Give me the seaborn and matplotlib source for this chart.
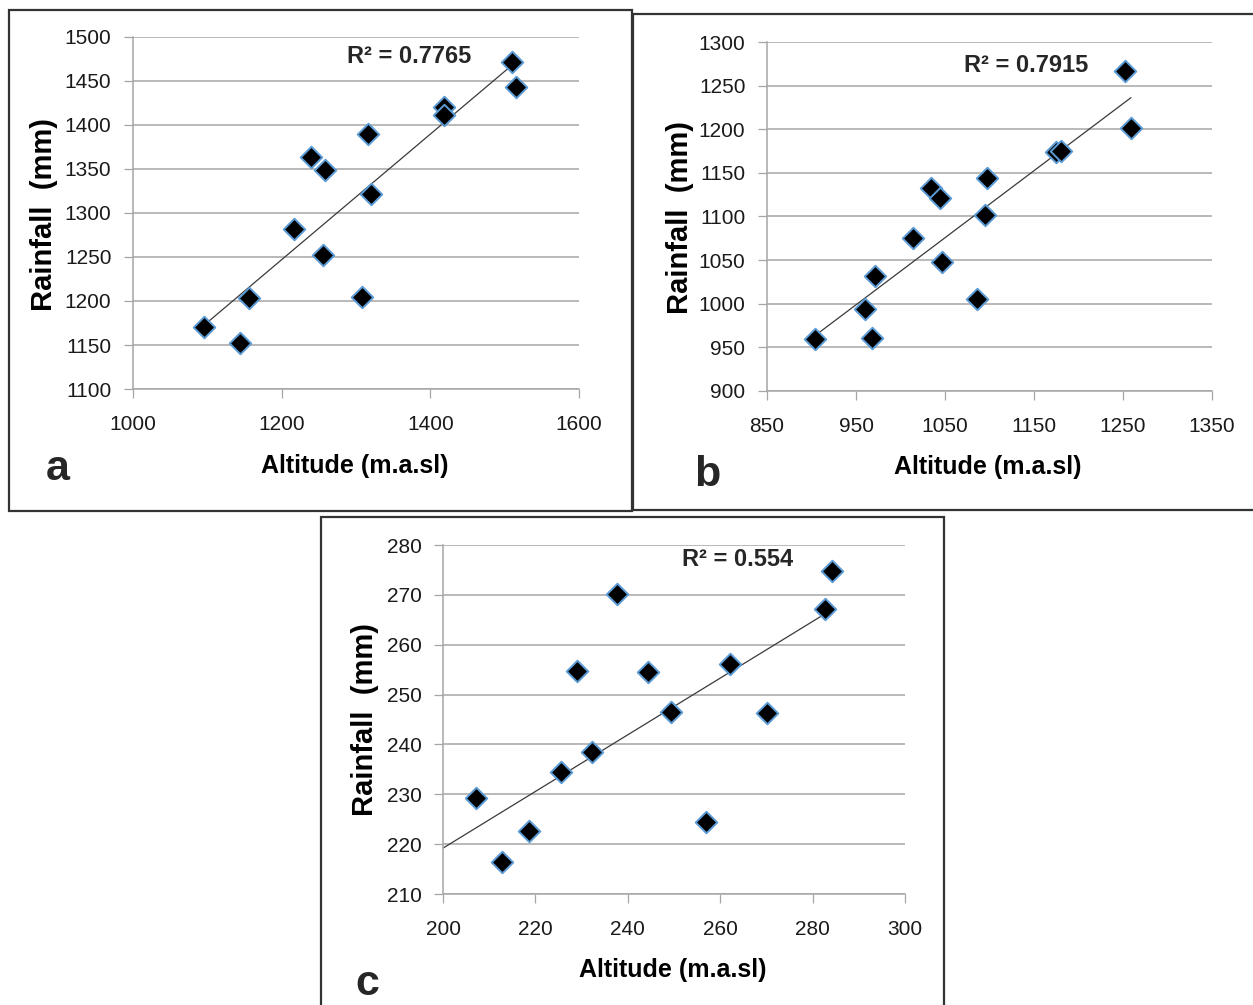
import numpy as np
import pandas as pd
import matplotlib
matplotlib.use("Agg")
import matplotlib.pyplot as plt
import seaborn as sns
from matplotlib.patches import Rectangle

# ---------------- data ----------------
a_altitude = [1095, 1144, 1156, 1217, 1239, 1258, 1255, 1308, 1316, 1320, 1418, 1418, 1510, 1515]
a_rainfall = [1170, 1152, 1203, 1282, 1364, 1349, 1252, 1204, 1390, 1322, 1420, 1411, 1472, 1443]

b_altitude = [904, 960, 968, 971, 1014, 1034, 1044, 1047, 1086, 1095, 1097, 1175, 1180, 1252, 1259]
b_rainfall = [960, 994, 961, 1032, 1075, 1133, 1121, 1048, 1006, 1102, 1144, 1174, 1175, 1267, 1201]

c_altitude = [207.2, 212.8, 218.6, 225.5, 229.1, 232.2, 237.6, 244.3, 249.3, 256.9, 262.2, 270.1, 282.7, 284.2]
c_rainfall = [229.3, 216.4, 222.6, 234.5, 254.8, 238.4, 270.2, 254.5, 246.5, 224.5, 256.1, 246.4, 267.1, 274.8]

# trend line of panel c (it starts at 200)
c_trend_altitude = [200, 282.7]
c_trend_rainfall = [219.2, 266.2]

a_xticks = [1000, 1200, 1400, 1600]
a_yticks = [1100, 1150, 1200, 1250, 1300, 1350, 1400, 1450, 1500]
b_xticks = [850, 950, 1050, 1150, 1250, 1350]
b_yticks = [900, 950, 1000, 1050, 1100, 1150, 1200, 1250, 1300]
c_xticks = [200, 220, 240, 260, 280, 300]
c_yticks = [210, 220, 230, 240, 250, 260, 270, 280]

r2_labels = ["R² = 0.7765", "R² = 0.7915", "R² = 0.554"]
panel_letters = ["a", "b", "c"]
x_title = "Altitude (m.a.sl)"
y_title = "Rainfall  (mm)"

# ---------------- style ----------------
sns.set_theme(style="white")
FONT = ['Liberation Sans', 'DejaVu Sans']
plt.rcParams['font.family'] = FONT

W, H = 1253, 1005
fig = plt.figure(figsize=(W / 100, H / 100), dpi=100)
fig.patch.set_facecolor('white')

GRID = '#a6a6a6'


def fx(px):
    return px / W


def fy(py):
    return 1 - py / H


def panel(plot_box, frame_box, x, y, xticks, yticks, r2, r2_pos, letter, letter_pos,
          xlab_c, ylab_c, trend=None):
    l, t, r, b = plot_box
    ax = fig.add_axes([fx(l), fy(b), (r - l) / W, (b - t) / H])
    ax.set_facecolor('none')
    df = pd.DataFrame({'Altitude': x, 'Rainfall': y})

    ax.set_xlim(xticks[0], xticks[-1])
    ax.set_ylim(yticks[0], yticks[-1])
    ax.set_xticks(xticks)
    ax.set_yticks(yticks)
    ax.grid(axis='y', color=GRID, lw=1.1)
    ax.grid(axis='x', visible=False)
    ax.set_axisbelow(True)

    if trend is None:
        slope, icpt = np.polyfit(x, y, 1)
        xs = np.array([min(x), max(x)])
        tdf = pd.DataFrame({'Altitude': xs, 'Rainfall': slope * xs + icpt})
    else:
        tdf = pd.DataFrame({'Altitude': trend[0], 'Rainfall': trend[1]})
    sns.lineplot(data=tdf, x='Altitude', y='Rainfall', color='#3a3a3a', lw=0.9,
                 ax=ax, zorder=2)

    sns.scatterplot(data=df, x='Altitude', y='Rainfall', marker='D', s=120,
                    color='black', edgecolor='#5b9bd5', linewidth=1.4,
                    ax=ax, zorder=3, clip_on=False)

    for side in ['top', 'right']:
        ax.spines[side].set_visible(False)
    for side in ['left', 'bottom']:
        ax.spines[side].set_color(GRID)
        ax.spines[side].set_linewidth(1.1)

    ax.tick_params(axis='both', direction='out', length=6.5, width=0.9,
                   color=GRID, labelsize=15, labelcolor='#1a1a1a')
    ax.tick_params(axis='y', pad=9, left=True)
    ax.tick_params(axis='x', pad=12, bottom=True)

    ax.set_xlabel(x_title, fontsize=18, fontweight='bold', color='black')
    ax.set_ylabel(y_title, fontsize=21, fontweight='bold', color='black')
    ax.xaxis.label.set_va('center')
    ax.yaxis.label.set_va('center')
    ax.xaxis.set_label_coords((xlab_c[0] - l) / (r - l), (b - xlab_c[1]) / (b - t))
    ax.yaxis.set_label_coords((ylab_c[0] - l) / (r - l), (b - ylab_c[1]) / (b - t))

    fig.text(fx(r2_pos[0]), fy(r2_pos[1]), r2, fontsize=17, fontweight='bold',
             ha='left', va='center')
    fig.text(fx(letter_pos[0]), fy(letter_pos[1]), letter, fontsize=31,
             fontweight='bold', ha='left', va='baseline')

    fl, ft, fr, fb = frame_box
    fig.patches.append(Rectangle((fx(fl), fy(fb)), (fr - fl) / W, (fb - ft) / H,
                                 transform=fig.transFigure, fill=False,
                                 ec='#333333', lw=1.6, zorder=10))
    return ax


panel((133, 37, 579, 389), (9, 10, 632, 511), a_altitude, a_rainfall, a_xticks, a_yticks,
      r2_labels[0], (347, 56), panel_letters[0], (46, 480), (355, 466), (44, 214))
panel((767, 42, 1212, 391), (633, 14, 1262, 510), b_altitude, b_rainfall, b_xticks, b_yticks,
      r2_labels[1], (964, 66), panel_letters[1], (694, 486), (988, 467), (680, 217))
panel((443, 545, 905, 894), (321, 517, 944, 1020), c_altitude, c_rainfall, c_xticks, c_yticks,
      r2_labels[2], (682, 560), panel_letters[2], (355, 995), (673, 970), (365, 719),
      trend=(c_trend_altitude, c_trend_rainfall))

fig.savefig('out.png', dpi=100, facecolor='white')
